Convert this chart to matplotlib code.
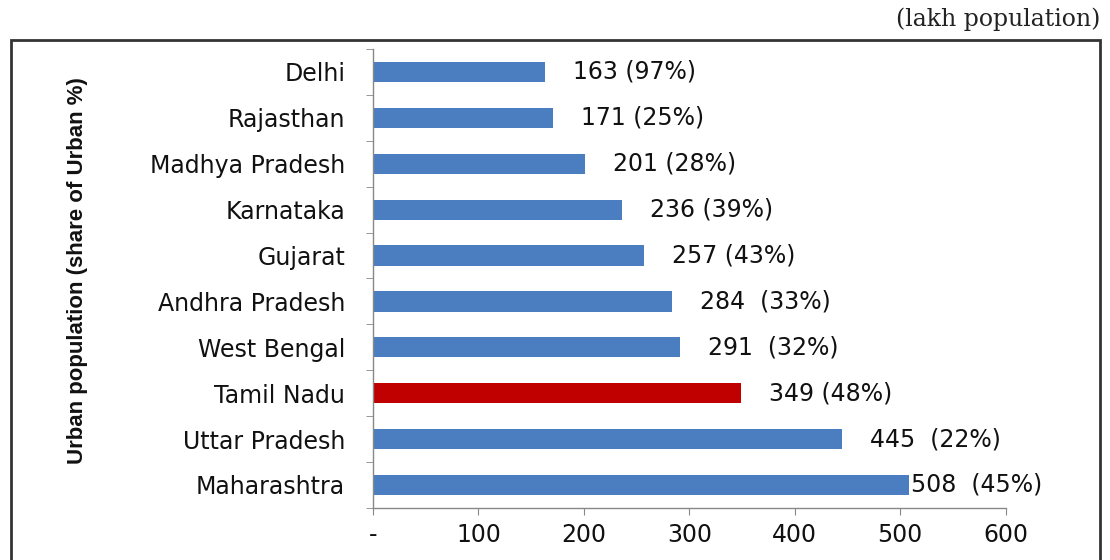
import matplotlib
matplotlib.use("Agg")
import matplotlib.pyplot as plt
from matplotlib.patches import Rectangle
from matplotlib.ticker import FuncFormatter

states = ["Delhi", "Rajasthan", "Madhya Pradesh", "Karnataka", "Gujarat",
          "Andhra Pradesh", "West Bengal", "Tamil Nadu", "Uttar Pradesh", "Maharashtra"]
population = [163, 171, 201, 236, 257, 284, 291, 349, 445, 508]
urban_share = [97, 25, 28, 39, 43, 33, 32, 48, 22, 45]
labels = ["163 (97%)", "171 (25%)", "201 (28%)", "236 (39%)", "257 (43%)",
          "284  (33%)", "291  (32%)", "349 (48%)", "445  (22%)", "508  (45%)"]
highlight = "Tamil Nadu"
xticks = [0, 100, 200, 300, 400, 500, 600]

plt.rcParams['font.family'] = ['DejaVu Sans']

fig = plt.figure(figsize=(11.1, 5.6), dpi=100)
ax = fig.add_axes([0.336, 0.093, 0.570, 0.8195])

blue = "#4A7EC0"
red = "#C00000"
colors = [red if s == highlight else blue for s in states]
ypos = list(range(len(states)))
ax.barh(ypos, population, height=0.44, color=colors, zorder=2)

ax.set_ylim(len(states) - 0.5, -0.5)
ax.set_xlim(0, 600)

fs = 17
for y, v, lab in zip(ypos, population, labels):
    pad = 1.5 if v == max(population) else 20
    ax.annotate(lab, (v, y), xytext=(pad, 0), textcoords="offset points",
                va="center", ha="left", fontsize=fs, color="#111111",
                annotation_clip=False)

ax.set_yticks(ypos)
ax.set_yticklabels(states, fontsize=fs, color="#111111")
ax.set_yticks([y + 0.5 for y in [-1] + ypos], minor=True)
ax.tick_params(axis="y", which="major", length=0, pad=20)
ax.tick_params(axis="y", which="minor", length=5, color="#888888", direction="out")

ax.set_xticks(xticks)
ax.xaxis.set_major_formatter(FuncFormatter(lambda v, p: "-" if v == 0 else f"{int(v)}"))
ax.tick_params(axis="x", length=5, color="#888888", direction="out", labelsize=fs,
               labelcolor="#111111", pad=6)

for s in ["top", "right"]:
    ax.spines[s].set_visible(False)
for s in ["left", "bottom"]:
    ax.spines[s].set_color("#888888")
    ax.spines[s].set_linewidth(1.0)

fig.text(0.070, 0.516, "Urban population (share of Urban %)", rotation=90,
         ha="center", va="center", fontsize=16, fontweight="bold",
         family=["Liberation Sans Narrow", "Liberation Sans", "DejaVu Sans"], color="#111111")

fig.text(0.991, 0.966, "(lakh population)", ha="right", va="center", fontsize=17,
         family=["DejaVu Serif"], color="#222222")

frame = Rectangle((11 / 1110, -0.05), 1089 / 1110, 1.05 - 40 / 560,
                  transform=fig.transFigure, fill=False, edgecolor="#333333",
                  linewidth=2, zorder=0)
fig.patches.append(frame)

fig.savefig("out.png", dpi=100)
